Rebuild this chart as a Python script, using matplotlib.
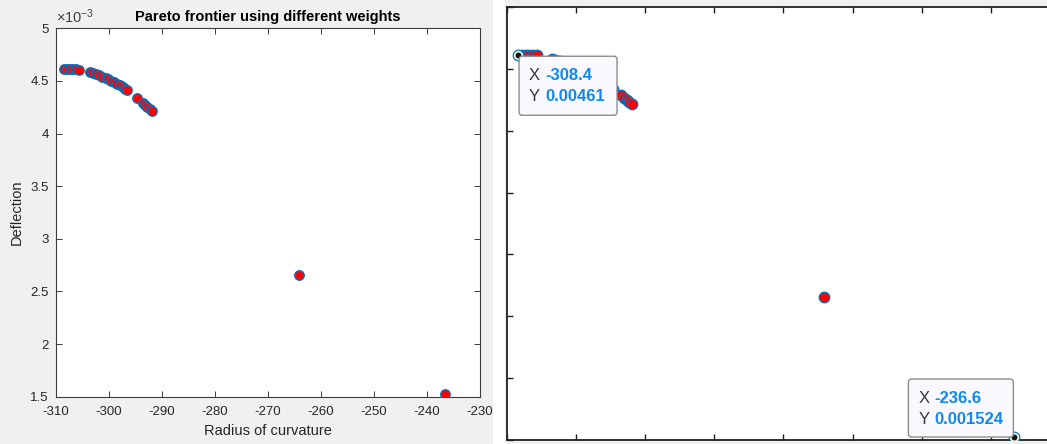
import numpy as np
import matplotlib
matplotlib.use('Agg')
import matplotlib.pyplot as plt
from matplotlib.patches import Rectangle, FancyBboxPatch
from matplotlib.transforms import offset_copy, IdentityTransform

plt.rcParams['font.family'] = ['Liberation Sans', 'DejaVu Sans']
plt.rcParams['mathtext.fontset'] = 'custom'
plt.rcParams['mathtext.rm'] = 'Liberation Sans'
plt.rcParams['mathtext.default'] = 'regular'

# pareto points (radius of curvature, deflection)
radius = [-308.4, -307.9, -307.3, -306.8, -306.2, -305.7, -303.5, -303.0, -302.4,
          -301.8, -301.2, -300.6, -300.1, -299.5, -299.0, -298.4, -297.9, -297.4,
          -296.9, -296.5, -294.6, -293.5, -293.1, -292.7, -292.3, -291.9,
          -264.2, -236.6]
deflection = [4.610e-3, 4.611e-3, 4.612e-3, 4.611e-3, 4.610e-3, 4.608e-3, 4.582e-3,
              4.574e-3, 4.563e-3, 4.553e-3, 4.542e-3, 4.530e-3, 4.519e-3, 4.503e-3,
              4.491e-3, 4.475e-3, 4.458e-3, 4.442e-3, 4.428e-3, 4.412e-3, 4.335e-3,
              4.290e-3, 4.268e-3, 4.250e-3, 4.231e-3, 4.212e-3, 2.655e-3, 1.524e-3]

xticks = [-310, -300, -290, -280, -270, -260, -250, -240, -230]
yticks = [1.5e-3, 2e-3, 2.5e-3, 3e-3, 3.5e-3, 4e-3, 4.5e-3, 5e-3]
ytick_labels = ['1.5', '2', '2.5', '3', '3.5', '4', '4.5', '5']

# data tips shown on the zoomed copy
tip_x = [-308.4, -236.6]
tip_y = [0.00461, 0.001524]
tip_xtxt = ['-308.4', '-236.6']
tip_ytxt = ['0.00461', '0.001524']

W, H = 1047, 444
fig = plt.figure(figsize=(W / 100, H / 100), dpi=100, facecolor='white')
gray = '#f0f0f0'
fig.patches.append(Rectangle((0, 0), 493 / W, 1, transform=fig.transFigure,
                             fc=gray, ec='none', zorder=-10))
fig.patches.append(Rectangle((505 / W, 0), 1 - 505 / W, 1, transform=fig.transFigure,
                             fc=gray, ec='none', zorder=-10))

# left: the full figure
ax1 = fig.add_axes([55.7 / W, (H - 396.7) / H, 424.3 / W, 368.4 / H])
ax1.scatter(radius, deflection, s=46, c='red', edgecolors='#0072BD', linewidths=1.0, zorder=3)
ax1.set_xlim(-310, -230)
ax1.set_ylim(1.5e-3, 5e-3)
ax1.set_xticks(xticks)
ax1.set_xticklabels([str(t) for t in xticks])
ax1.set_yticks(yticks)
ax1.set_yticklabels(ytick_labels)
ax1.tick_params(direction='in', length=4, width=0.7, color='#3c3c3c', labelcolor='#262626',
                labelsize=9.5, top=True, right=True)
ax1.tick_params(axis='x', pad=7)
ax1.tick_params(axis='y', pad=5)
for s in ax1.spines.values():
    s.set_color('#3c3c3c')
    s.set_linewidth(0.8)
ax1.set_xlabel('Radius of curvature', fontsize=10.5, color='#262626', labelpad=4)
ax1.set_ylabel('Deflection', fontsize=10.5, color='#262626', labelpad=5)
ax1.set_title('Pareto frontier using different weights', fontsize=10.5,
              fontweight='bold', color='black', pad=5)
ax1.text(0, 1.006, r'×10$^{-3}$', transform=ax1.transAxes, ha='left', va='bottom',
         fontsize=10.5, color='#404040')

# right: zoomed copy with data tips
ax2 = fig.add_axes([507 / W, (H - 440) / H, 553 / W, 433 / H])
ax2.scatter(radius, deflection, s=56, c='red', edgecolors='#0072BD', linewidths=1.0, zorder=3)
ax2.set_xlim(-310, -230)
ax2.set_ylim(1.5e-3, 5e-3)
ax2.set_xticks(xticks)
ax2.set_yticks(yticks)
ax2.set_xticklabels([])
ax2.set_yticklabels([])
ax2.tick_params(direction='in', length=4.5, width=1.0, color='#202020', top=True, right=True)
for s in ax2.spines.values():
    s.set_color('#202020')
    s.set_linewidth(1.3)

# box offsets (pixels, top-left corner relative to the point) and box sizes
tip_boxes = [(1, -1, 98, 59), (-106, 58, 105, 58)]
for i in range(len(tip_x)):
    ax2.plot(tip_x[i], tip_y[i], 'o', ms=5.5, mfc='#151515', mec='#f3eed8', mew=1.3,
             zorder=6, clip_on=False)
    dx, dy, bw, bh = tip_boxes[i]
    px, py = ax2.transData.transform((tip_x[i], tip_y[i]))
    box = FancyBboxPatch((px + dx, py + dy - bh), bw, bh,
                         boxstyle='round,pad=0,rounding_size=3', fc='#f8f8fd',
                         ec='#8c8c8c', lw=1.0, transform=IdentityTransform(), zorder=7)
    ax2.add_patch(box)
    tr = offset_copy(ax2.transData, fig, x=dx + 10, y=dy - 12, units='dots')
    ax2.text(tip_x[i], tip_y[i], 'X\nY', transform=tr, ha='left', va='top', fontsize=12,
             color='#383838', linespacing=1.5, zorder=8)
    tr2 = offset_copy(ax2.transData, fig, x=dx + 26, y=dy - 12, units='dots')
    ax2.text(tip_x[i], tip_y[i], tip_xtxt[i] + '\n' + tip_ytxt[i], transform=tr2,
             ha='left', va='top', fontsize=12, fontweight='bold', color='#1088f0',
             linespacing=1.5, zorder=8)

fig.savefig('out.png', dpi=100)
